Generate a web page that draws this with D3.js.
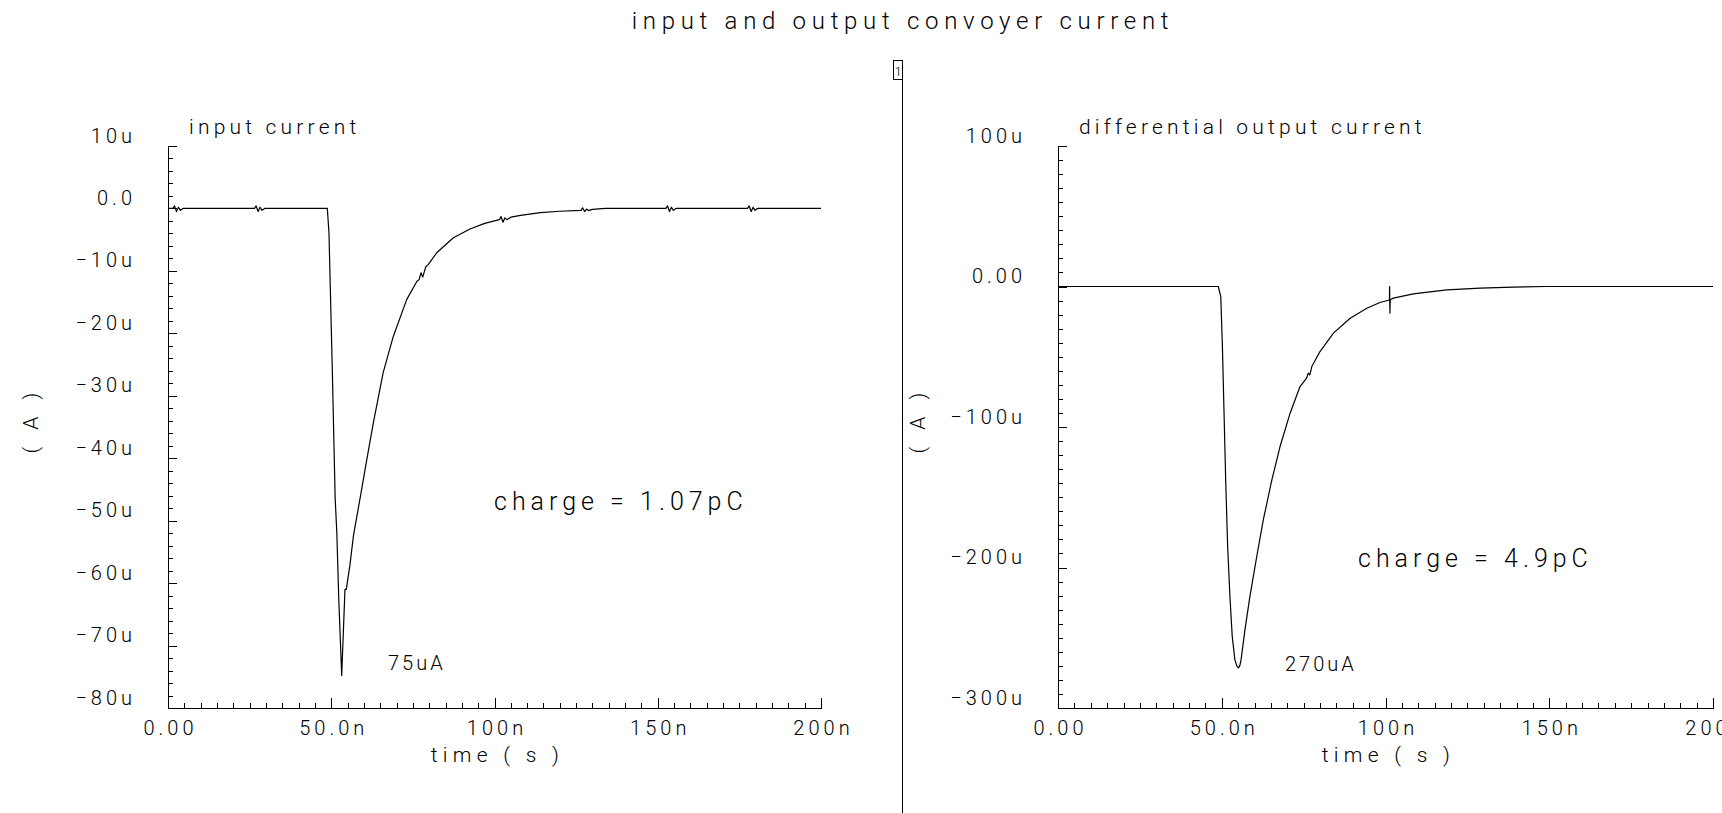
<!DOCTYPE html>
<html>
<head>
<meta charset="utf-8">
<script src="https://cdn.jsdelivr.net/npm/d3@7"></script>
<style>
body { margin: 0; background: #fff; }
svg text { font-family: Roboto, "Open Sans", sans-serif; font-weight: 300; fill: #000; }
.axis .domain, .axis .tick line { stroke: #000; stroke-width: 1; shape-rendering: crispEdges; }
.axis text { font-size: 20px; letter-spacing: 4px; }
.curve { fill: none; stroke: #000; stroke-width: 1.2; stroke-linejoin: round; }
</style>
</head>
<body>
<svg id="chart" width="1722" height="813"></svg>
<script>
// time in ns, current in uA
var inputCurrent = [
  [0, 0], [1.5, 0], [2, 0.4], [2.6, -0.5], [3.2, 0.2], [3.8, -0.3], [4.6, 0],
  [26.5, 0], [27, 0.4], [27.6, -0.5], [28.2, 0.2], [28.8, -0.3], [29.6, 0],
  [48.8, 0], [49.3, -3.9], [50.3, -25.3], [51.2, -46.5], [51.7, -51.8], [52.3, -62.5],
  [53.2, -74.8], [54.2, -61], [54.6, -61], [55.7, -57.2], [56.8, -52.4], [58.8, -46.5],
  [60.9, -40.2], [62.9, -34.3], [65.9, -26.3], [69, -20.5], [73.1, -14.6], [76.2, -11.7],
  [76.9, -11.4], [77.5, -10.3], [78, -11], [79, -9.3], [79.7, -9], [82.3, -7.1],
  [87.4, -4.7], [92.5, -3.3], [97, -2.4], [101.5, -1.8], [102, -1.3], [102.6, -2.2],
  [103.2, -1.5], [103.8, -1.8], [105, -1.4], [108, -1.1], [114, -0.66], [120, -0.45],
  [126.5, -0.3], [127, 0.1], [127.6, -0.5], [128.2, -0.1], [128.8, -0.35], [130, -0.15],
  [134, 0], [152.5, 0], [153, 0.4], [153.6, -0.5], [154.2, 0.2], [154.8, -0.3], [155.6, 0],
  [177.5, 0], [178, 0.4], [178.6, -0.5], [179.2, 0.2], [179.8, -0.3], [180.6, 0], [200, 0]
];

var outputCurrent = [
  [0, 0], [48.95, 0], [49.7, -7.2], [50.2, -42.7], [50.7, -90], [51.2, -137.6],
  [51.8, -185], [52.5, -220.6], [53.2, -249], [54, -265.6], [54.6, -270], [55.1, -271.5],
  [55.5, -270], [55.9, -265.6], [57.1, -244], [58.6, -220.6], [60.7, -192], [62.7, -166],
  [65.3, -137.6], [67.8, -113.9], [70.9, -90], [73.9, -71.2], [75.9, -65.2], [76.4, -61.7],
  [76.9, -62.9], [77.5, -57], [80, -46.3], [84.1, -33.2], [89.2, -22.6], [94.3, -15.5],
  [98.3, -11.4], [101.2, -9.6], [101.25, 0], [101.35, -19], [101.45, -9.4], [102.4, -8.3],
  [108.5, -5.3], [118.7, -2.4], [128.9, -1.2], [139, -0.5], [149, 0], [200, 0]
];

var xTicks = [0, 50, 100, 150, 200];
var xTickLabels = ["0.00", "50.0n", "100n", "150n", "200n"];

var leftYTicks = [10, 0, -10, -20, -30, -40, -50, -60, -70, -80];
var leftYLabels = ["10u", "0.0", "\u221210u", "\u221220u", "\u221230u", "\u221240u",
                   "\u221250u", "\u221260u", "\u221270u", "\u221280u"];

var rightYTicks = [100, 0, -100, -200, -300];
var rightYLabels = ["100u", "0.00", "\u2212100u", "\u2212200u", "\u2212300u"];

var panels = [
  {
    left: 168, right: 821, yDomain: [-80, 10], yStep: 2,
    yTicks: leftYTicks, yLabels: leftYLabels, data: inputCurrent,
    title: "input current", note: "charge = 1.07pC", noteX: 494, noteY: 510,
    peak: "75uA", peakX: 388, peakY: 670, yLabelX: 38
  },
  {
    left: 1058, right: 1713, yDomain: [-300, 100], yStep: 10,
    yTicks: rightYTicks, yLabels: rightYLabels, data: outputCurrent,
    title: "differential output current", note: "charge = 4.9pC", noteX: 1358, noteY: 567,
    peak: "270uA", peakX: 1285, peakY: 671, yLabelX: 925
  }
];

var plotTop = 146, plotBot = 708;

var svg = d3.select("#chart");

// main title
svg.append("text")
  .attr("x", 903).attr("y", 29)
  .attr("text-anchor", "middle")
  .style("font-size", "24px").style("letter-spacing", "5.7px")
  .text("input and output convoyer current");

// divider and page box
svg.append("line")
  .attr("x1", 902.5).attr("x2", 902.5).attr("y1", 60).attr("y2", 813)
  .attr("stroke", "#000");
svg.append("rect")
  .attr("x", 893.5).attr("y", 60.5).attr("width", 9).attr("height", 19)
  .attr("fill", "none").attr("stroke", "#000");
svg.append("text")
  .attr("x", 898).attr("y", 76).attr("text-anchor", "middle")
  .style("font-size", "13px")
  .text("1");

function drawPanel(p) {
  var x = d3.scaleLinear().domain([0, 200]).range([p.left, p.right]);
  var y = d3.scaleLinear().domain(p.yDomain).range([plotBot, plotTop]);

  // minor x ticks
  svg.append("g").attr("class", "axis")
    .attr("transform", "translate(0," + plotBot + ")")
    .call(d3.axisBottom(x).tickValues(d3.range(0, 201, 5)).tickSize(-5).tickSizeOuter(0).tickFormat(""));

  // major x ticks
  var gx = svg.append("g").attr("class", "axis")
    .attr("transform", "translate(0," + plotBot + ")")
    .call(d3.axisBottom(x).tickValues(xTicks).tickSize(-10).tickSizeOuter(0).tickPadding(13)
      .tickFormat(function(d, i) { return xTickLabels[i]; }));
  gx.selectAll("text").attr("dx", "0.1em");

  // minor y ticks
  svg.append("g").attr("class", "axis")
    .attr("transform", "translate(" + p.left + ",0)")
    .call(d3.axisLeft(y).tickValues(d3.range(p.yDomain[0], p.yDomain[1] + 0.001, p.yStep))
      .tickSize(-5).tickSizeOuter(0).tickFormat(""));

  // major y ticks
  var gy = svg.append("g").attr("class", "axis")
    .attr("transform", "translate(" + p.left + ",0)")
    .call(d3.axisLeft(y).tickValues(p.yTicks).tickSize(-9).tickSizeOuter(0).tickPadding(32)
      .tickFormat(function(d, i) { return p.yLabels[i]; }));
  gy.selectAll("text").attr("dy", "-0.2em");

  // the curve
  var line = d3.line()
    .x(function(d) { return x(d[0]); })
    .y(function(d) { return y(d[1]); });

  svg.append("path")
    .datum(p.data)
    .attr("class", "curve")
    .attr("d", line);

  // labels
  svg.append("text")
    .attr("x", p.left + 21).attr("y", 134)
    .style("font-size", "21px").style("letter-spacing", "4.2px")
    .text(p.title);

  svg.append("text")
    .attr("x", (p.left + p.right) / 2 + 3).attr("y", 762)
    .attr("text-anchor", "middle")
    .style("font-size", "21px").style("letter-spacing", "5.3px")
    .text("time ( s )");

  svg.append("text")
    .attr("transform", "translate(" + p.yLabelX + ",420) rotate(-90)")
    .attr("text-anchor", "middle")
    .style("font-size", "21px").style("letter-spacing", "6px")
    .text("( A )");

  svg.append("text")
    .attr("x", p.noteX).attr("y", p.noteY)
    .style("font-size", "25px").style("letter-spacing", "5px")
    .text(p.note);

  svg.append("text")
    .attr("x", p.peakX).attr("y", p.peakY)
    .style("font-size", "20px").style("letter-spacing", "3px")
    .text(p.peak);
}

panels.forEach(drawPanel);
</script>
</body>
</html>
